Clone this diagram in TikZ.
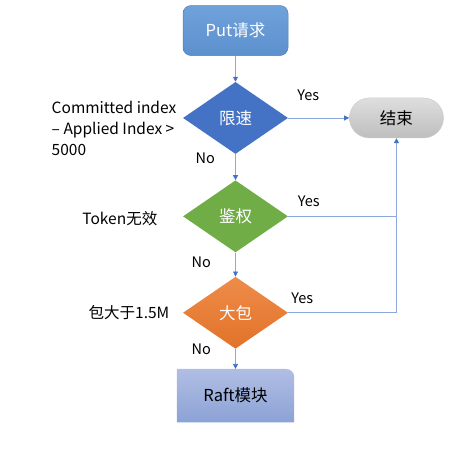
\documentclass[tikz,border=0pt]{standalone}
\usepackage{fontspec}
\setmainfont{Noto Sans CJK SC}
\usetikzlibrary{shapes.geometric,arrows.meta,positioning,backgrounds}
\definecolor{puttop}{RGB}{112,162,218}
\definecolor{putbot}{RGB}{92,144,206}
\definecolor{putedge}{RGB}{78,128,190}
\definecolor{limitblue}{RGB}{68,114,196}
\definecolor{authgreen}{RGB}{112,173,71}
\definecolor{bigtop}{RGB}{238,140,74}
\definecolor{bigbot}{RGB}{226,114,40}
\definecolor{fintop}{RGB}{222,222,222}
\definecolor{finbot}{RGB}{190,190,190}
\definecolor{rafttop}{RGB}{176,190,228}
\definecolor{raftbot}{RGB}{140,162,214}
\definecolor{lineblue}{RGB}{140,168,220}
\definecolor{tipblue}{RGB}{68,114,196}
\begin{document}
\begin{tikzpicture}[x=1pt,y=-1pt,>={Triangle[length=5pt,width=5pt,color=tipblue]},
    line/.style={draw=lineblue,line width=0.7pt},
    box/.style={rectangle,rounded corners=8pt,minimum width=105pt,minimum height=50pt,font=\fontsize{16.5}{18}\selectfont},
    test/.style={diamond,aspect=1.46,minimum width=105pt,minimum height=72pt,inner sep=0pt,text=white,font=\fontsize{16.5}{18}\selectfont},
    lbl/.style={font=\fontsize{14.5}{16}\selectfont},
    cond/.style={font=\fontsize{15.5}{21}\selectfont,align=left}]
  \useasboundingbox (0,0) rectangle (455,472);

  \node[box,draw=putedge,line width=0.5pt,top color=puttop,bottom color=putbot,text=white] (put) at (235.5,30.5) {Put请求};
  \node[test,fill=limitblue] (limit) [below=26pt of put] {限速};
  \node[test,fill=authgreen] (auth) [below=26pt of limit] {鉴权};
  \node[test,top color=bigtop,bottom color=bigbot] (big) [below=24pt of auth] {大包};
  \node[minimum width=117pt,minimum height=53pt,inner sep=0pt,font=\fontsize{16.5}{18}\selectfont] (raft) [below=20pt of big] {Raft模块};
  \node[box,rounded corners=20pt,minimum width=94pt,minimum height=40pt,draw=finbot!80,line width=0.5pt,top color=fintop,bottom color=finbot] (fin) [right=61pt of limit] {结束};
  \coordinate (j) at (auth -| fin);

  % conditions on the left
  \node[cond] (limittxt) [left=3pt of limit, yshift=-10pt] {Committed index\\ – Applied Index >\\5000};
  \node[cond] (authtxt) [left=22pt of auth, yshift=-2pt] {Token无效};
  \node[cond] (bigtxt) [left=10pt of big] {包大于1.5M};

  \begin{scope}[on background layer]
    \shade[top color=rafttop,bottom color=raftbot] (raft.south west) -- (raft.north west) -- ([xshift=-8pt]raft.north east)
      arc[start angle=90,end angle=0,radius=8pt] -- (raft.south east) -- cycle;
  \end{scope}

  \path[line]
  (put) edge[->] (limit)
  (limit) edge[->] node[lbl,pos=.33,above=14pt] (yes1) {Yes} (fin)
  (limit) edge[->] node[lbl,pos=.15,left=17pt] (no1) {No} (auth)
  (auth) edge node[lbl,pos=.19,above=6pt] (yes2) {Yes} (j)
  (auth) edge[->] node[lbl,pos=.42,left=21pt] (no2) {No} (big)
  (big) edge[->] node[lbl,pos=0,left=21pt] (no3) {No} (raft);
  \draw[line,->] (big) -| node[lbl,pos=.065,above=5pt] (yes3) {Yes} (fin);
\end{tikzpicture}
\end{document}
